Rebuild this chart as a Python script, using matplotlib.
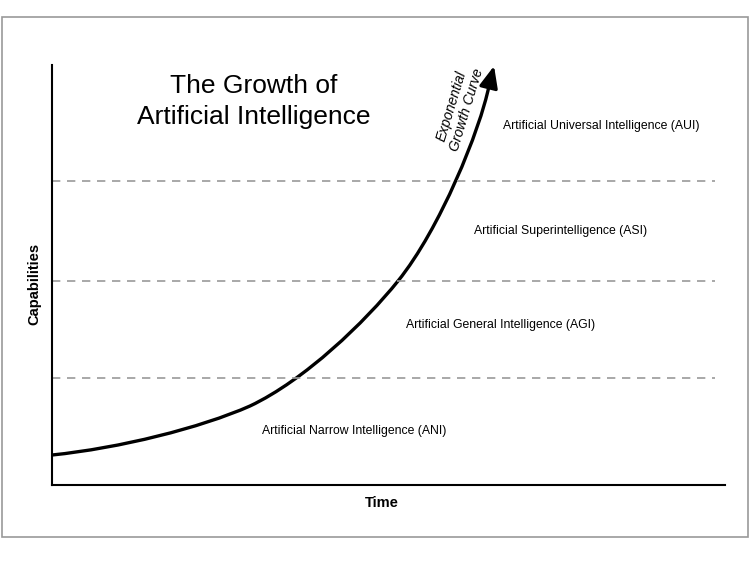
import numpy as np
import matplotlib.pyplot as plt
from matplotlib.patches import Rectangle, PathPatch
from matplotlib.path import Path

plt.rcParams['font.family'] = ['Liberation Sans', 'DejaVu Sans']

# growth curve as cubic Bezier knots/controls
# (time 0-100, capability 0-100)
curve_x = [0.0, 10.10, 21.99, 29.42, 37.59, 46.51, 51.41, 57.65, 63.60, 64.93]
curve_y = [7.14, 8.81, 13.57, 18.81, 25.0, 38.81, 48.57, 60.95, 84.52, 95.0]
arrow_tip = (65.68, 99.76)

levels = [25.48, 48.57, 72.38]
stages = ['Artificial Narrow Intelligence (ANI)',
          'Artificial General Intelligence (AGI)',
          'Artificial Superintelligence (ASI)',
          'Artificial Universal Intelligence (AUI)']
stage_x = [44.87, 66.72, 75.63, 81.58]
stage_y = [12.86, 38.1, 60.48, 85.48]

W, H = 750, 563
fig = plt.figure(figsize=(7.5, 5.63), dpi=100)

# slide border
fig.patches.append(Rectangle((2 / W, 1 - 537 / H), 746 / W, 520 / H,
                             transform=fig.transFigure, fill=False,
                             edgecolor='#999999', linewidth=1.2))

ax = fig.add_axes([52 / W, 1 - 485 / H, 673 / W, 420 / H])
ax.set_xlim(0, 100)
ax.set_ylim(0, 100)
for s in ['top', 'right']:
    ax.spines[s].set_visible(False)
for s in ['left', 'bottom']:
    ax.spines[s].set_linewidth(1.5)
ax.set_xticks([])
ax.set_yticks([])

for lv in levels:
    ax.plot([0, 98.5], [lv, lv], color='#999999', linestyle=(0, (5, 4)), linewidth=1.2)

verts = list(zip(curve_x, curve_y))
codes = [Path.MOVETO] + [Path.CURVE4] * (len(verts) - 1)
ax.add_patch(PathPatch(Path(verts, codes), facecolor='none', edgecolor='black',
                       linewidth=2.4, capstyle='butt'))
ax.annotate('', xy=arrow_tip, xytext=(curve_x[-1], curve_y[-1]),
            arrowprops=dict(arrowstyle='-|>,head_length=0.65,head_width=0.28',
                            mutation_scale=20, color='black', linewidth=2.4,
                            shrinkA=0, shrinkB=0))

for label, x, y in zip(stages, stage_x, stage_y):
    ax.text(x, y, label, ha='center', va='center', fontsize=8.8)

ax.text(60.5, 89.8, 'Exponential\nGrowth Curve', ha='center', va='center',
        fontsize=10, rotation=73, style='italic', linespacing=1.1)

ax.text(30.0, 91.3, 'The Growth of\nArtificial Intelligence', ha='center', va='center',
        fontsize=19, linespacing=1.4)

ax.set_xlabel('Time', fontsize=10.5, fontweight='bold', labelpad=8, x=0.49)
ax.set_ylabel('Capabilities', fontsize=10.5, fontweight='bold', labelpad=8, y=0.479)

fig.savefig('out.png', dpi=100)
